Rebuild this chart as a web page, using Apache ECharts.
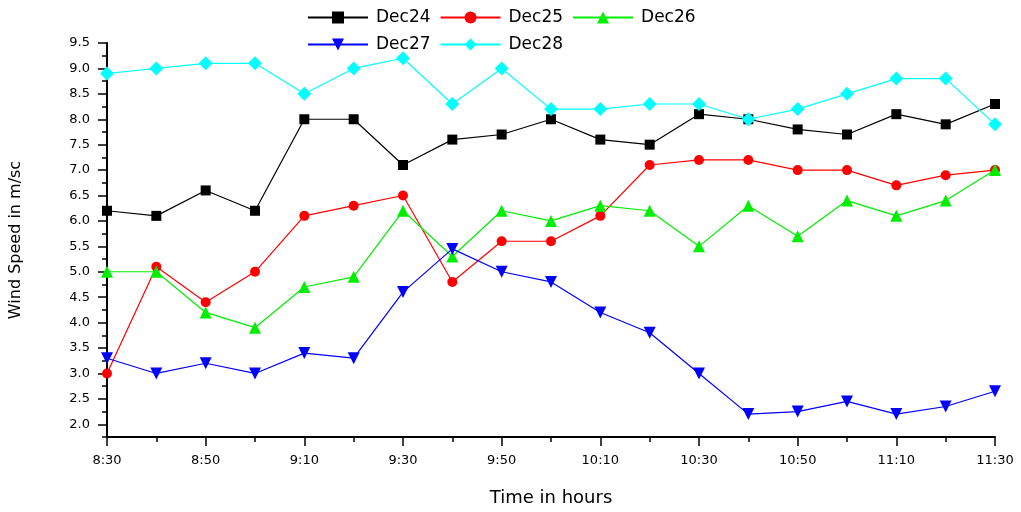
<!DOCTYPE html>
<html>
<head>
    <meta charset="utf-8">
    <title>Wind Speed</title>
    <script src="https://cdn.jsdelivr.net/npm/echarts@6/dist/echarts.min.js"></script>
    <style>
        html, body { margin: 0; padding: 0; background: #fff; }
        #main { width: 1021px; height: 512px; }
    </style>
</head>
<body>
    <div id="main"></div>
    <script type="text/javascript">
        // time every 10 minutes
        var times = ['8:30', '8:40', '8:50', '9:00', '9:10', '9:20', '9:30', '9:40', '9:50', '10:00',
                     '10:10', '10:20', '10:30', '10:40', '10:50', '11:00', '11:10', '11:20', '11:30'];
        var dec24 = [6.2, 6.1, 6.6, 6.2, 8.0, 8.0, 7.1, 7.6, 7.7, 8.0, 7.6, 7.5, 8.1, 8.0, 7.8, 7.7, 8.1, 7.9, 8.3];
        var dec25 = [3.0, 5.1, 4.4, 5.0, 6.1, 6.3, 6.5, 4.8, 5.6, 5.6, 6.1, 7.1, 7.2, 7.2, 7.0, 7.0, 6.7, 6.9, 7.0];
        var dec26 = [5.0, 5.0, 4.2, 3.9, 4.7, 4.9, 6.2, 5.3, 6.2, 6.0, 6.3, 6.2, 5.5, 6.3, 5.7, 6.4, 6.1, 6.4, 7.0];
        var dec27 = [3.3, 3.0, 3.2, 3.0, 3.4, 3.3, 4.6, 5.45, 5.0, 4.8, 4.2, 3.8, 3.0, 2.2, 2.25, 2.45, 2.2, 2.35, 2.65];
        var dec28 = [8.9, 9.0, 9.1, 9.1, 8.5, 9.0, 9.2, 8.3, 9.0, 8.2, 8.2, 8.3, 8.3, 8.0, 8.2, 8.5, 8.8, 8.8, 7.9];
        var yTicks = [2.0, 2.5, 3.0, 3.5, 4.0, 4.5, 5.0, 5.5, 6.0, 6.5, 7.0, 7.5, 8.0, 8.5, 9.0, 9.5];

        var font = 'DejaVu Sans';
        var myChart = echarts.init(document.getElementById('main'));

        function line(name, data, color, symbol, size, rotate) {
            return {
                name: name,
                type: 'line',
                data: data,
                symbol: symbol,
                symbolSize: size,
                symbolRotate: rotate || 0,
                showAllSymbol: true,
                lineStyle: { color: color, width: 1.2 },
                itemStyle: { color: color },
                animation: false
            };
        }

        var legendText = {
            fontFamily: font,
            fontSize: 17,
            color: '#000',
            width: 63,
            padding: [0, 0, 0, 3]
        };

        myChart.setOption({
            backgroundColor: '#fff',
            animation: false,
            legend: [{
                data: ['Dec24', 'Dec25', 'Dec26'],
                left: 307,
                top: 9,
                itemWidth: 60,
                itemHeight: 15,
                itemGap: 9,
                padding: 0,
                textStyle: legendText
            }, {
                data: ['Dec27', 'Dec28'],
                left: 307,
                top: 36,
                itemWidth: 60,
                itemHeight: 15,
                itemGap: 9,
                padding: 0,
                textStyle: legendText
            }],
            grid: {
                left: 107,
                right: 26,
                top: 43,
                bottom: 75,
                outerBoundsMode: 'none'
            },
            xAxis: [{
                type: 'category',
                data: times,
                boundaryGap: false,
                name: 'Time in hours',
                nameLocation: 'middle',
                nameGap: 52,
                nameTextStyle: { fontFamily: font, fontSize: 18, color: '#000' },
                axisLine: { lineStyle: { color: '#000', width: 2 } },
                axisTick: { interval: 0, length: 5, lineStyle: { color: '#000', width: 1.5 } },
                axisLabel: { interval: 1, margin: 17, fontFamily: font, fontSize: 13, color: '#000' },
                splitLine: { show: false }
            }, {
                type: 'category',
                data: times,
                boundaryGap: false,
                position: 'bottom',
                axisLine: { show: false },
                axisTick: { interval: 1, length: 9, lineStyle: { color: '#000', width: 1.5 } },
                axisLabel: { show: false },
                splitLine: { show: false }
            }],
            yAxis: [{
                type: 'value',
                min: 1.75,
                max: 9.5,
                name: 'Wind Speed in m/sc',
                nameLocation: 'middle',
                nameGap: 83,
                nameTextStyle: { fontFamily: font, fontSize: 16, color: '#000' },
                axisLine: { show: true, lineStyle: { color: '#000', width: 2 } },
                axisTick: {
                    show: true, length: 9, customValues: yTicks,
                    lineStyle: { color: '#000', width: 1.5 }
                },
                axisLabel: {
                    customValues: yTicks, margin: 17, fontFamily: font, fontSize: 13, color: '#000',
                    formatter: function (v) { return v.toFixed(1); }
                },
                splitLine: { show: false }
            }, {
                type: 'value',
                min: 1.75,
                max: 9.5,
                interval: 0.25,
                position: 'left',
                axisLine: { show: false },
                axisTick: { show: true, length: 5, lineStyle: { color: '#000', width: 1.5 } },
                axisLabel: { show: false },
                splitLine: { show: false }
            }],
            series: [
                line('Dec24', dec24, '#000000', 'rect', 10),
                line('Dec25', dec25, '#ff0000', 'circle', 10),
                line('Dec26', dec26, '#00ee00', 'triangle', 12),
                line('Dec27', dec27, '#0000ff', 'triangle', 12, 180),
                line('Dec28', dec28, '#00ffff', 'diamond', 14)
            ]
        });
    </script>
</body>
</html>
